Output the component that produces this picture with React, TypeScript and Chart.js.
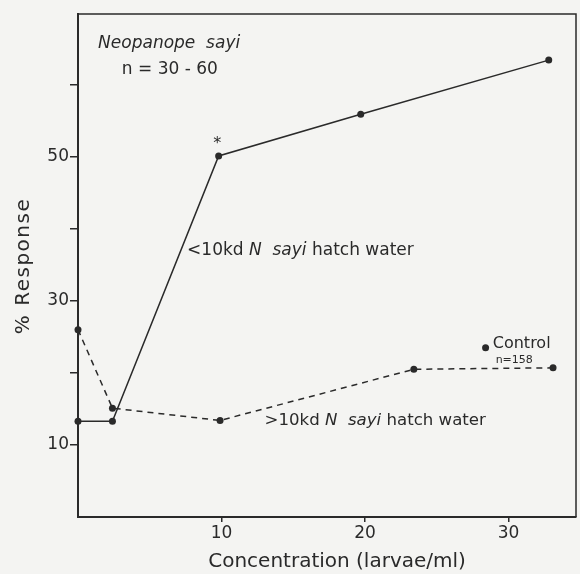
import React, { useEffect, useRef } from "react";
import { Chart, registerables } from "chart.js";

Chart.register(...registerables);

// Data
const below10kdX = [0, 2.4, 9.8, 19.7, 32.8];
const below10kdY = [13.3, 13.3, 50.1, 55.9, 63.4];
const above10kdX = [0, 2.4, 9.9, 23.4, 33.1];
const above10kdY = [26.0, 15.1, 13.4, 20.5, 20.7];
const controlX = [28.4];
const controlY = [23.5];
const xTickValues = [10, 20, 30];
const yTickValues = [10, 20, 30, 40, 50, 60];
const yTickLabels = [10, 30, 50];

const FONT = "DejaVu Sans";
const INK = "#2a2a2a";

type Run = { t: string; i?: boolean };

function drawRuns(ctx: CanvasRenderingContext2D, runs: Run[], x: number, y: number, size: number) {
  let cx = x;
  for (const r of runs) {
    ctx.font = `${r.i ? "italic " : ""}${size}px "${FONT}"`;
    ctx.fillText(r.t, cx, y);
    cx += ctx.measureText(r.t).width;
  }
}

const decorPlugin = {
  id: "decor",
  beforeDraw(chart: any) {
    const ctx = chart.ctx as CanvasRenderingContext2D;
    ctx.save();
    ctx.fillStyle = "#f4f4f2";
    ctx.fillRect(0, 0, chart.width, chart.height);
    ctx.restore();
  },
  afterDraw(chart: any) {
    const ctx = chart.ctx as CanvasRenderingContext2D;
    const { left, right, top, bottom } = chart.chartArea;
    const xs = chart.scales.x;
    const ys = chart.scales.y;
    ctx.save();
    // frame top & right
    ctx.strokeStyle = INK;
    ctx.lineWidth = 1.5;
    ctx.beginPath();
    ctx.moveTo(left, top);
    ctx.lineTo(right, top);
    ctx.lineTo(right, bottom);
    ctx.stroke();

    ctx.fillStyle = INK;
    ctx.textBaseline = "middle";
    ctx.textAlign = "left";
    // species label
    drawRuns(ctx, [{ t: "Neopanope  sayi", i: true }], xs.getPixelForValue(1.4), ys.getPixelForValue(65.7), 17);
    ctx.textAlign = "center";
    ctx.font = `17px "${FONT}"`;
    ctx.fillText("n = 30 - 60", xs.getPixelForValue(6.4), ys.getPixelForValue(62.1));
    // asterisk
    ctx.font = `16px "${FONT}"`;
    ctx.fillText("*", xs.getPixelForValue(9.7), ys.getPixelForValue(51.8));
    ctx.textAlign = "left";
    drawRuns(
      ctx,
      [{ t: "<10kd " }, { t: "N", i: true }, { t: "  " }, { t: "sayi", i: true }, { t: " hatch water" }],
      xs.getPixelForValue(7.6),
      ys.getPixelForValue(37.0),
      17
    );
    drawRuns(
      ctx,
      [{ t: ">10kd " }, { t: "N", i: true }, { t: "  " }, { t: "sayi", i: true }, { t: " hatch water" }],
      xs.getPixelForValue(13.0),
      ys.getPixelForValue(13.4),
      16.6
    );
    drawRuns(ctx, [{ t: "Control" }], xs.getPixelForValue(28.9), ys.getPixelForValue(24.0), 16);
    drawRuns(ctx, [{ t: "n=158" }], xs.getPixelForValue(29.1), ys.getPixelForValue(21.7), 11);

    // axis titles
    ctx.textAlign = "center";
    ctx.font = `20px "${FONT}"`;
    ctx.fillText("Concentration (larvae/ml)", xs.getPixelForValue(18.05), 562);
    ctx.translate(24, 266);
    ctx.rotate(-Math.PI / 2);
    (ctx as any).letterSpacing = "1.5px";
    ctx.fillText("% Response", 0, 0);
    ctx.restore();
  },
};

export default function App() {
  const ref = useRef<HTMLCanvasElement | null>(null);
  useEffect(() => {
    if (!ref.current) return;
    const pts = (xs: number[], ys: number[]) => xs.map((x, i) => ({ x, y: ys[i] }));
    const chart = new Chart(ref.current, {
      type: "line",
      data: {
        datasets: [
          {
            label: "<10kd N sayi hatch water",
            data: pts(below10kdX, below10kdY),
            borderColor: INK,
            backgroundColor: INK,
            borderWidth: 1.5,
            pointRadius: 3.5,
            pointBorderWidth: 0,
            clip: false,
          },
          {
            label: ">10kd N sayi hatch water",
            data: pts(above10kdX, above10kdY),
            borderColor: INK,
            backgroundColor: INK,
            borderWidth: 1.5,
            borderDash: [6, 5],
            pointRadius: 3.5,
            pointBorderWidth: 0,
            clip: false,
          },
          {
            label: "Control",
            data: pts(controlX, controlY),
            showLine: false,
            borderColor: INK,
            backgroundColor: INK,
            pointRadius: 3.5,
            pointBorderWidth: 0,
            clip: false,
          },
        ],
      },
      options: {
        responsive: false,
        animation: false,
        layout: { padding: { left: 0, right: 4, top: 14, bottom: 0 } },
        plugins: { legend: { display: false }, tooltip: { enabled: false } },
        scales: {
          x: {
            type: "linear",
            min: 0,
            max: 34.7,
            afterBuildTicks: (s: any) => {
              s.ticks = xTickValues.map((v) => ({ value: v }));
            },
            afterFit: (s: any) => {
              s.height = 57;
            },
            ticks: {
              color: INK,
              font: { family: FONT, size: 17 },
              padding: 1,
              maxRotation: 0,
              callback: (v: any) => String(v),
            },
            grid: { drawOnChartArea: false, drawTicks: true, tickLength: 5, color: INK, lineWidth: 1.5 },
            border: { display: true, color: INK, width: 2 },
          },
          y: {
            type: "linear",
            min: 0,
            max: 69.8,
            afterBuildTicks: (s: any) => {
              s.ticks = yTickValues.map((v) => ({ value: v }));
            },
            afterFit: (s: any) => {
              s.width = 78;
            },
            ticks: {
              color: INK,
              font: { family: FONT, size: 17 },
              padding: 1,
              callback: (v: any) => (yTickLabels.includes(Number(v)) ? String(v) : ""),
            },
            grid: { drawOnChartArea: false, drawTicks: true, tickLength: 8, color: INK, lineWidth: 1.5 },
            border: { display: true, color: INK, width: 2 },
          },
        },
      },
      plugins: [decorPlugin],
    });
    return () => chart.destroy();
  }, []);
  return (
    <div style={{ position: "fixed", left: 0, top: 0, width: 580, height: 574, background: "#f4f4f2" }}>
      <canvas ref={ref} width={580} height={574} style={{ display: "block" }} />
    </div>
  );
}
